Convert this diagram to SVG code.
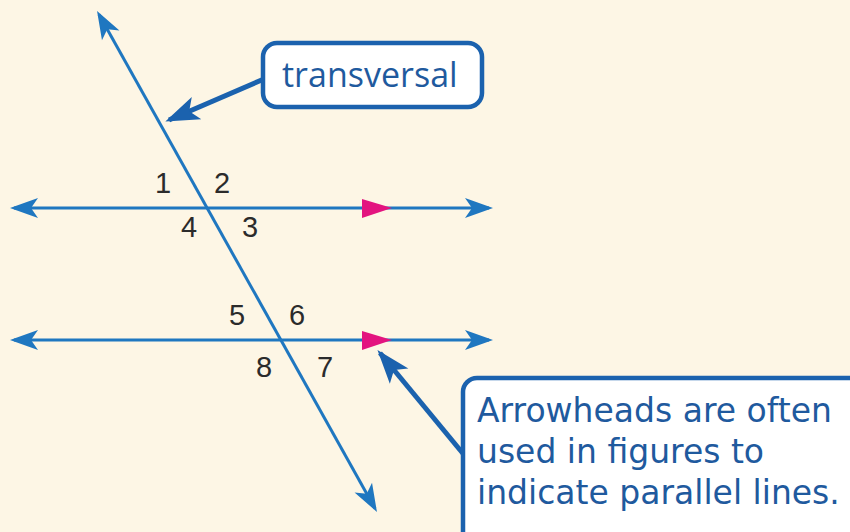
<svg xmlns="http://www.w3.org/2000/svg" width="850" height="532" viewBox="0 0 850 532">
<style>
.ln{stroke:#1f77c0;stroke-width:3;fill:none}
.co{stroke:#1b62ae;stroke-width:5;fill:none}
.box{fill:#ffffff;stroke:#1b62ae;stroke-width:4.5}
.num{font-family:"Liberation Sans",Arial,sans-serif;font-size:29px;fill:#2b2b2b}
.lbl{font-family:"Open Sans","Noto Sans",sans-serif;fill:#1f5a9e}
.note{font-family:"DejaVu Sans","Open Sans",sans-serif;fill:#1f5a9e}
.par{fill:#e3147f}
</style>
<defs>
<marker id="ah" markerUnits="userSpaceOnUse" markerWidth="40" markerHeight="30" viewBox="-30 -15 40 30" refX="0" refY="0" orient="auto-start-reverse">
<path d="M4,0 L-24,-10 L-17,0 L-24,10 Z" fill="#1f77c0"/>
</marker>
<marker id="ch" markerUnits="userSpaceOnUse" markerWidth="44" markerHeight="30" viewBox="-34 -15 44 30" refX="0" refY="0" orient="auto">
<path d="M4,0 L-30,-12 L-22,0 L-30,12 Z" fill="#1b62ae"/>
</marker>
</defs>
<rect width="850" height="532" fill="#fdf6e5"/>
<g id="connectors">
<line id="line1" class="ln" x1="14" y1="208" x2="489" y2="208" marker-start="url(#ah)" marker-end="url(#ah)"/>
<line id="line2" class="ln" x1="14" y1="340" x2="489" y2="340" marker-start="url(#ah)" marker-end="url(#ah)"/>
<line id="transversal-line" class="ln" x1="99" y1="14.5" x2="375" y2="508.5" marker-start="url(#ah)" marker-end="url(#ah)"/>
<polygon class="par" points="362,199 392,208 362,218"/>
<polygon class="par" points="362,331 392,340 362,350"/>
<line class="co" x1="264" y1="79" x2="169" y2="120" marker-end="url(#ch)"/>
<line class="co" x1="465" y1="456" x2="380" y2="353" marker-end="url(#ch)"/>
</g>
<g id="angles">
<text class="num" x="155" y="193">1</text>
<text class="num" x="214" y="193">2</text>
<text class="num" x="181" y="237">4</text>
<text class="num" x="242" y="237">3</text>
<text class="num" x="229" y="325">5</text>
<text class="num" x="289" y="325">6</text>
<text class="num" x="256" y="377">8</text>
<text class="num" x="317" y="377">7</text>
</g>
<g id="transversal-label">
<rect class="box" x="263" y="43" width="219" height="64" rx="14"/>
<text class="lbl" x="282" y="87" font-size="34">transversal</text>
</g>
<g id="note">
<rect class="box" x="463" y="378" width="420" height="180" rx="14"/>
<text class="note" font-size="33"><tspan x="477" y="422">Arrowheads are often</tspan><tspan x="477" y="463">used in figures to</tspan><tspan x="477" y="504">indicate parallel lines.</tspan></text>
</g>
</svg>
